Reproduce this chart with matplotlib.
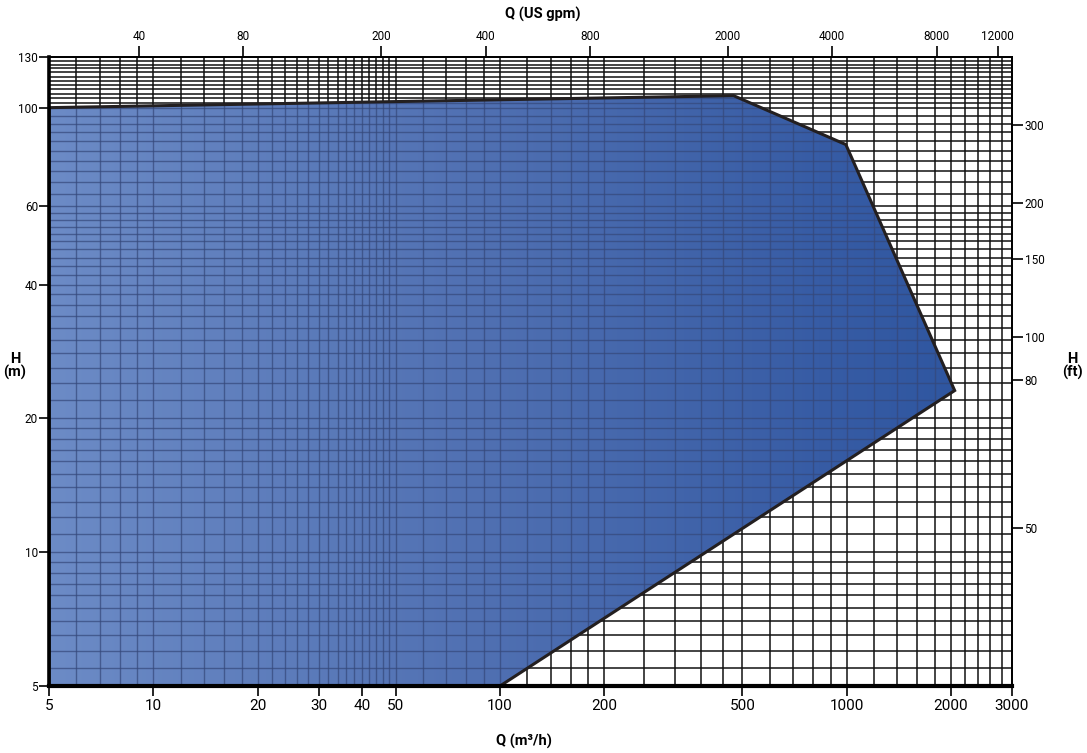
import numpy as np
import matplotlib
matplotlib.use('Agg')
import matplotlib.pyplot as plt
from matplotlib.patches import Polygon
from matplotlib.collections import LineCollection
from matplotlib.ticker import NullLocator

plt.rcParams['font.family'] = ['Roboto', 'DejaVu Sans']

# ---------------- data ----------------
q_envelope = [5, 5, 472, 995, 2050, 100]        # m3/h
h_envelope = [5, 100, 106.4, 82.6, 23.1, 5]     # m

x_ticks = [5, 10, 20, 30, 40, 50, 100, 200, 500, 1000, 2000, 3000]
y_ticks = [5, 10, 20, 40, 60, 100, 130]
gpm_ticks = [40, 80, 200, 400, 800, 2000, 4000, 8000, 12000]
ft_tick_pos = [37.2, 80, 100, 150, 200, 300]
ft_tick_labels = ['50', '80', '100', '150', '200', '300']

x_grid = [5, 6, 7, 8, 9, 10, 12, 14, 16, 18, 20, 22, 24, 26, 28, 30, 32, 34, 36, 38,
          40, 42, 44, 46, 48, 50, 60, 70, 80, 90, 100, 120, 140, 160, 180, 200,
          260, 320, 380, 440, 500, 600, 700, 800, 900, 1000, 1200, 1400, 1600, 1800,
          2000, 2200, 2400, 2600, 2800, 3000]
y_grid = [5, 5.5, 6, 6.5, 7, 7.5, 8, 8.5, 9, 9.5, 10, 11, 12, 13, 14, 15, 16, 17, 18, 19,
          20, 22, 24, 26, 28, 30, 32, 34, 36, 38, 40, 42, 44, 46, 48, 50, 52, 54, 56, 58,
          60, 64, 68, 72, 76, 80, 84, 88, 92, 96, 100, 102.5, 105, 107.5, 110, 112.5,
          115, 117.5, 120, 122.5, 125, 127.5, 130]

M3H_TO_GPM = 4.403
M_TO_FT = 3.28084

# ---------------- figure ----------------
W, H = 1087, 753
fig = plt.figure(figsize=(W / 100, H / 100), dpi=100)
ax = fig.add_axes([49 / W, 1 - 686 / H, (1012 - 49) / W, (686 - 57) / H])
ax.set_xscale('log')
ax.set_yscale('log')
ax.set_xlim(5, 3000)
ax.set_ylim(5, 130)

# grid (black, everywhere)
segs = [[(x, 5), (x, 130)] for x in x_grid] + [[(5, y), (3000, y)] for y in y_grid]
ax.add_collection(LineCollection(segs, colors='#111111', linewidths=1.1, zorder=1))

# envelope polygon
poly = Polygon(np.column_stack([q_envelope, h_envelope]), closed=True,
               facecolor='none', edgecolor='#231f20', linewidth=2.2,
               joinstyle='miter', zorder=5)
ax.add_patch(poly)

# horizontal gradient fill clipped to polygon
stops = np.array([0.0, 0.45, 0.8, 1.0])
cols = np.array([[108, 139, 198], [80, 112, 178], [55, 92, 165], [44, 84, 158]]) / 255.0
xs = np.linspace(0, 1, 600)
grad = np.stack([np.interp(xs, stops, cols[:, i]) for i in range(3)], axis=-1)[None, :, :]
im = ax.imshow(grad, extent=[0, 1, 0, 1], transform=ax.transAxes, aspect='auto',
               interpolation='bilinear', zorder=2)
im.set_clip_path(poly)

# grid inside polygon (dark blue-grey)
lc_in = LineCollection(segs, colors='#35487a', linewidths=1.0, alpha=0.7, zorder=3)
ax.add_collection(lc_in)
lc_in.set_clip_path(poly)

# spines
for s in ax.spines.values():
    s.set_zorder(6)
    s.set_color('black')
ax.spines['left'].set_linewidth(2.6)
ax.spines['bottom'].set_linewidth(3.0)
ax.spines['top'].set_linewidth(1.3)
ax.spines['right'].set_linewidth(1.3)

# bottom axis
ax.set_xticks(x_ticks, labels=[str(v) for v in x_ticks])
ax.xaxis.set_minor_locator(NullLocator())
ax.tick_params(axis='x', which='major', direction='out', length=7, width=1.2,
               labelsize=11, pad=2, colors='black')
# left axis
ax.set_yticks(y_ticks, labels=[str(v) for v in y_ticks])
ax.yaxis.set_minor_locator(NullLocator())
ax.tick_params(axis='y', which='major', direction='out', length=7, width=1.2,
               labelsize=8.5, pad=1, colors='black')

# top axis (US gpm)
top = ax.secondary_xaxis('top', functions=(lambda q: q * M3H_TO_GPM, lambda g: g / M3H_TO_GPM))
top.set_xticks(gpm_ticks, labels=[str(v) for v in gpm_ticks])
top.xaxis.set_minor_locator(NullLocator())
top.tick_params(direction='out', length=8, width=1.2, labelsize=8.5, pad=2)
top.spines['top'].set_linewidth(1.3)

# right axis (ft)
right = ax.secondary_yaxis('right', functions=(lambda m: m * M_TO_FT, lambda f: f / M_TO_FT))
right.set_yticks(ft_tick_pos, labels=ft_tick_labels)
right.yaxis.set_minor_locator(NullLocator())
right.tick_params(direction='out', length=8, width=1.2, labelsize=8.5, pad=1)
right.spines['right'].set_linewidth(1.3)

# axis titles
fig.text(543 / W, 1 - 14 / H, 'Q (US gpm)', ha='center', va='center',
         fontsize=10.5, fontweight='bold')
fig.text(524 / W, 1 - 741 / H, 'Q (m³/h)', ha='center', va='center',
         fontsize=10.5, fontweight='bold')
fig.text(15 / W, 1 - 366 / H, 'H\n(m)', ha='center', va='center',
         fontsize=10.5, fontweight='bold', linespacing=0.95)
fig.text(1072 / W, 1 - 366 / H, 'H\n(ft)', ha='center', va='center',
         fontsize=10.5, fontweight='bold', linespacing=0.95)

fig.savefig('out.png', dpi=100)
